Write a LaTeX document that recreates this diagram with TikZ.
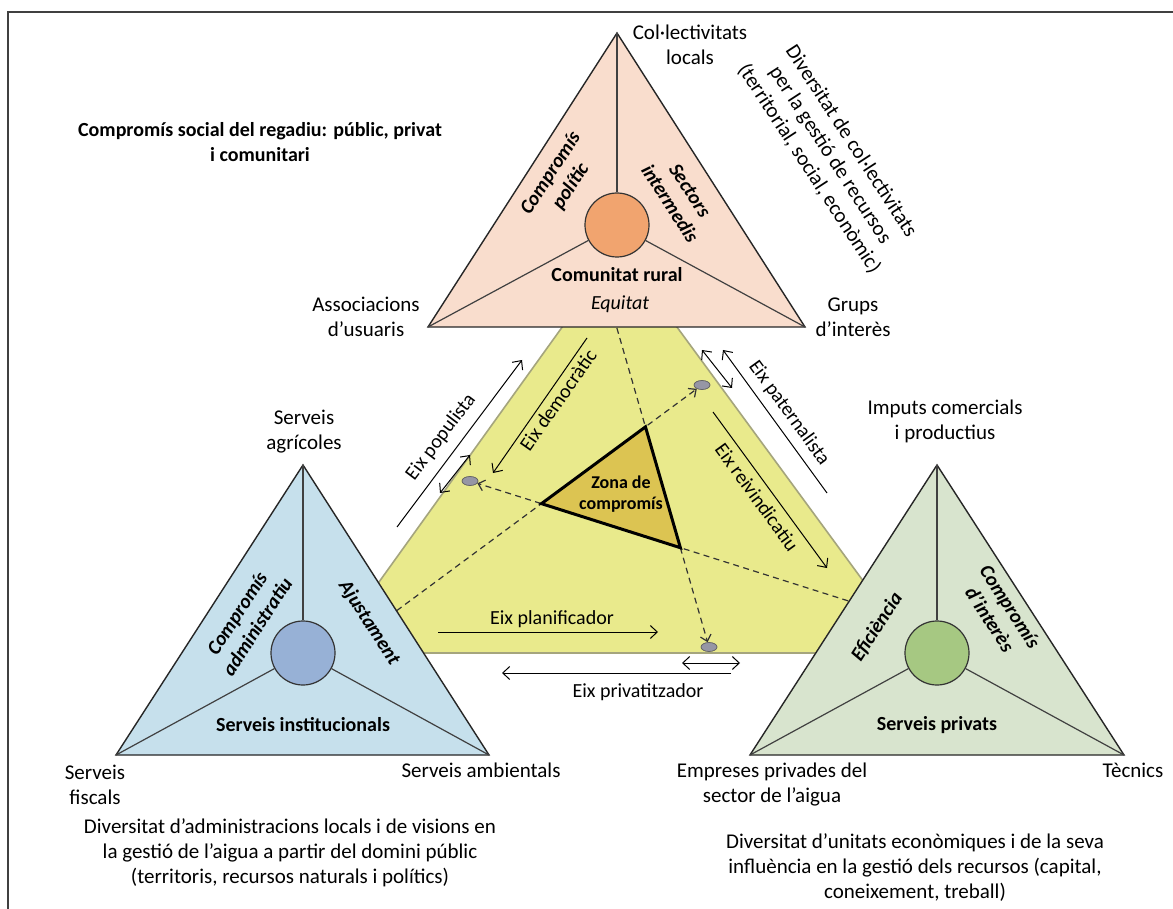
\documentclass[tikz,border=0pt]{standalone}
\usepackage{fontspec}
\setmainfont{Carlito}
\usetikzlibrary{arrows.meta,shapes.geometric}

\definecolor{pinkfill}{RGB}{249,221,205}
\definecolor{pinkhub}{RGB}{241,164,111}
\definecolor{yellowfill}{RGB}{233,234,140}
\definecolor{yellowedge}{RGB}{165,165,125}
\definecolor{zonafill}{RGB}{220,196,82}
\definecolor{bluefill}{RGB}{198,224,236}
\definecolor{bluehub}{RGB}{151,177,214}
\definecolor{greenfill}{RGB}{216,228,206}
\definecolor{greenhub}{RGB}{166,200,130}
\definecolor{polegray}{RGB}{150,150,165}

\begin{document}
\begin{tikzpicture}[x=0.5pt,y=-0.5pt,
  every node/.style={font=\fontsize{10.5}{12.5}\selectfont, inner sep=0pt, align=center},
  actor/.style={draw=black!85, line width=0.7pt, line join=miter},
  spoke/.style={draw=black!75, line width=0.6pt},
  hub/.style={circle, draw=black!80, line width=0.6pt, minimum size=32pt},
  tip/.style={-{Straight Barb[length=3.5pt,width=6.5pt]}},
  axisarrow/.style={draw=black, line width=0.5pt, tip},
  twoway/.style={draw=black, line width=0.5pt, {Straight Barb[length=3.5pt,width=6.5pt]}-{Straight Barb[length=3.5pt,width=6.5pt]}},
  trace/.style={draw=black!80, line width=0.6pt, dash pattern=on 3pt off 2.2pt, -{Straight Barb[length=3pt,width=5.5pt]}},
  polemark/.style={ellipse, draw=black!60, fill=polegray, minimum width=8pt, minimum height=4.5pt, line width=0.4pt},
  role/.style={font=\fontsize{10}{12}\selectfont\bfseries\itshape},
  heading/.style={font=\fontsize{10}{12.5}\selectfont\bfseries},
  axislabel/.style={font=\fontsize{10}{12}\selectfont},
]
\useasboundingbox (0,0) rectangle (1173,909);
\fill[white] (0,0) rectangle (1173,909);

% frame
\draw[black!75, line width=0.9pt] (8,909) -- (8,12) -- (1173,12);

% ---------- central field ----------
\coordinate (yA) at (619,248);
\coordinate (yB) at (328,653);
\coordinate (yC) at (916,653);
\fill[yellowfill] (yA) -- (yB) -- (yC) -- cycle;
\draw[yellowedge, line width=0.8pt] (yA) -- (yB) -- (yC) -- cycle;

% pole markers
\node[polemark] (poleL) at (470,481) {};
\node[polemark] (poleR) at (702,385) {};
\node[polemark] (poleB) at (709,647) {};

% traces from each actor to the opposite pole
\coordinate (tB) at (380,623);
\coordinate (tP) at (614,318);
\coordinate (tG) at (858,604);
\draw[trace] (tB) -- (poleR);
\draw[trace] (tP) -- (poleB);
\draw[trace] (tG) -- (poleL);

% compromise zone
\coordinate (zL) at (intersection of tB--poleR.center and tG--poleL.center);
\coordinate (zT) at (intersection of tB--poleR.center and tP--poleB.center);
\coordinate (zR) at (intersection of tP--poleB.center and tG--poleL.center);
\draw[line width=1.5pt, fill=zonafill, line join=miter] (zL) -- (zT) -- (zR) -- cycle;
\node[font=\fontsize{9}{10.8}\selectfont\bfseries] (zona) at (621,494) {Zona de\\compromís};

% axes
\coordinate (popA) at (397,527);  \coordinate (popB) at (522,360);
\draw[axisarrow] (popA) -- (popB);
\node[axislabel, rotate=53] (popT) at (441,437) {Eix populista};
\coordinate (popsA) at (440,493); \coordinate (popsB) at (470,455);
\draw[twoway] (popsA) -- (popsB);

\coordinate (demA) at (587,338); \coordinate (demB) at (493,473);
\draw[axisarrow] (demA) -- (demB);
\node[axislabel, rotate=55] (demT) at (558,400) {Eix democràtic};

\coordinate (patA) at (827,493); \coordinate (patB) at (723,350);
\draw[axisarrow] (patA) -- (patB);
\node[axislabel, rotate=-54] (patT) at (789,413) {Eix paternalista};
\coordinate (patsA) at (702,350); \coordinate (patsB) at (732,388);
\draw[twoway] (patsA) -- (patsB);

\coordinate (reiA) at (713,412); \coordinate (reiB) at (827,568);
\draw[axisarrow] (reiA) -- (reiB);
\node[axislabel, rotate=-54] (reiT) at (757,497) {Eix reivindicatiu};

\coordinate (plaA) at (438,632); \coordinate (plaB) at (658,632);
\draw[axisarrow] (plaA) -- (plaB);
\node[axislabel] (plaT) at (552,619) {Eix planificador};

\coordinate (priA) at (731,673); \coordinate (priB) at (502,673);
\draw[axisarrow] (priA) -- (priB);
\coordinate (prisA) at (682,663); \coordinate (prisB) at (740,663);
\draw[twoway] (prisA) -- (prisB);
\node[axislabel] (priT) at (638,692) {Eix privatitzador};

% ---------- rural community ----------
\coordinate (pA) at (617,33);
\coordinate (pB) at (428,327);
\coordinate (pC) at (805,327);
\filldraw[actor, fill=pinkfill] (pA) -- (pB) -- (pC) -- cycle;
\node[hub, fill=pinkhub] (pH) at (617,225) {};
\draw[spoke] (pA) -- (pH);
\draw[spoke] (pB) -- (pH);
\draw[spoke] (pC) -- (pH);
\node[role, rotate=57] (pL) at (561,180) {Compromís\\polític};
\node[role, rotate=-57] (pR) at (680,197) {Sectors\\intermedis};
\node[heading] (pN) at (617,275) {Comunitat rural};
\node[font=\fontsize{10}{12}\selectfont\itshape] (pE) at (620,304) {Equitat};

% ---------- institutional services ----------
\coordinate (bA) at (303,465);
\coordinate (bB) at (116,755);
\coordinate (bC) at (489,755);
\filldraw[actor, fill=bluefill] (bA) -- (bB) -- (bC) -- cycle;
\node[hub, fill=bluehub] (bH) at (303,653) {};
\draw[spoke] (bA) -- (bH);
\draw[spoke] (bB) -- (bH);
\draw[spoke] (bC) -- (bH);
\node[role, rotate=57] (bL) at (247,620) {Compromís\\administratiu};
\node[role, rotate=-57] (bR) at (369,623) {Ajustament};
\node[heading] (bN) at (303,725) {Serveis institucionals};

% ---------- private services ----------
\coordinate (gA) at (937,465);
\coordinate (gB) at (750,755);
\coordinate (gC) at (1124,755);
\filldraw[actor, fill=greenfill] (gA) -- (gB) -- (gC) -- cycle;
\node[hub, fill=greenhub] (gH) at (937,653) {};
\draw[spoke] (gA) -- (gH);
\draw[spoke] (gB) -- (gH);
\draw[spoke] (gC) -- (gH);
\node[role, rotate=57] (gL) at (877,627) {Eficiència};
\node[role, rotate=-57] (gR) at (1000,613) {Compromís\\d’interès};
\node[heading] (gN) at (937,725) {Serveis privats};

% ---------- vertex labels ----------
\node (lCol) at (690,45) {Col·lectivitats\\locals};
\node (lAss) at (366,317) {Associacions\\d’usuaris};
\node (lGru) at (853,317) {Grups\\d’interès};
\node (lAgr) at (304,432) {Serveis\\agrícoles};
\node (lFis) at (95,785) {Serveis\\fiscals};
\node (lAmb) at (481,770) {Serveis ambientals};
\node (lImp) at (945,421) {Imputs comercials\\i productius};
\node (lEmp) at (772,785) {Empreses privades del\\sector de l’aigua};
\node (lTec) at (1133,770) {Tècnics};

% ---------- descriptions ----------
\node[heading] (dSoc) at (260,142) {Compromís social del regadiu: públic, privat\\i comunitari};
\node[rotate=-57] (dCol) at (830,155) {Diversitat de col·lectivitats\\per la gestió de recursos\\(territorial, social, econòmic)};
\node (dAdm) at (290,853) {Diversitat d’administracions locals i de visions en\\la gestió de l’aigua a partir del domini públic\\(territoris, recursos naturals i polítics)};
\node (dEco) at (915,868) {Diversitat d’unitats econòmiques i de la seva\\influència en la gestió dels recursos (capital,\\coneixement, treball)};
\end{tikzpicture}
\end{document}
